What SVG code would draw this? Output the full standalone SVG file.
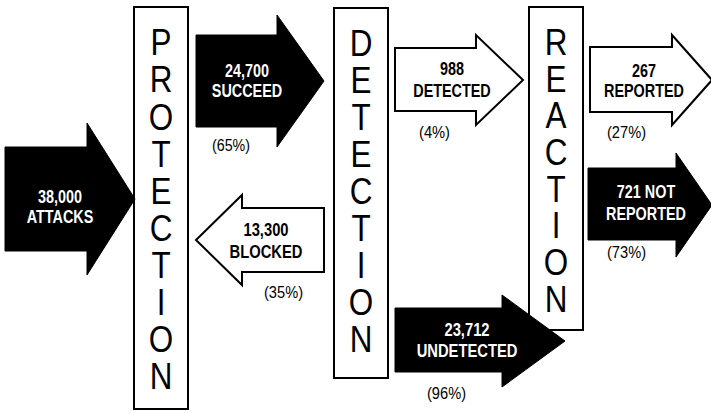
<svg xmlns="http://www.w3.org/2000/svg" width="711" height="413" viewBox="0 0 711 413">
<style>
.box{fill:#fff;stroke:#000;stroke-width:2}
.big{font-family:"Liberation Sans",Arial,sans-serif;font-size:37px;fill:#000;text-anchor:middle}
.ab{fill:#000;stroke:#000;stroke-width:1}
.aw{fill:#fff;stroke:#000;stroke-width:2;stroke-linejoin:miter}
.lw{font-family:"Liberation Sans",Arial,sans-serif;font-size:18px;font-weight:bold;fill:#fff;text-anchor:middle}
.lb{font-family:"Liberation Sans",Arial,sans-serif;font-size:18px;font-weight:bold;fill:#000;text-anchor:middle}
.pc{font-family:"Liberation Sans",Arial,sans-serif;font-size:16px;fill:#000}
</style>
<rect width="711" height="413" fill="#fff"/>
<g id="protection">
<rect class="box" x="134" y="7" width="54" height="402"/>
<g transform="translate(161,0) scale(0.85,1)">
<text class="big" x="0" y="55">P</text>
<text class="big" x="0" y="92">R</text>
<text class="big" x="0" y="130">O</text>
<text class="big" x="0" y="167">T</text>
<text class="big" x="0" y="204">E</text>
<text class="big" x="0" y="241">C</text>
<text class="big" x="0" y="278">T</text>
<text class="big" x="0" y="315">I</text>
<text class="big" x="0" y="352">O</text>
<text class="big" x="0" y="389">N</text>
</g>
</g>
<g id="detection">
<rect class="box" x="334" y="8" width="54" height="370"/>
<g transform="translate(361,0) scale(0.85,1)">
<text class="big" x="0" y="56">D</text>
<text class="big" x="0" y="93">E</text>
<text class="big" x="0" y="130">T</text>
<text class="big" x="0" y="167">E</text>
<text class="big" x="0" y="204">C</text>
<text class="big" x="0" y="241">T</text>
<text class="big" x="0" y="278">I</text>
<text class="big" x="0" y="315">O</text>
<text class="big" x="0" y="352">N</text>
</g>
</g>
<g id="reaction">
<rect class="box" x="529" y="7" width="54" height="323"/>
<g transform="translate(556,0) scale(0.85,1)">
<text class="big" x="0" y="55">R</text>
<text class="big" x="0" y="92">E</text>
<text class="big" x="0" y="128">A</text>
<text class="big" x="0" y="165">C</text>
<text class="big" x="0" y="202">T</text>
<text class="big" x="0" y="238">I</text>
<text class="big" x="0" y="275">O</text>
<text class="big" x="0" y="312">N</text>
</g>
</g>
<g id="connectors">
<g id="attacks">
<polygon class="ab" points="5,147 87,147 87,123 135,199 87,275 87,251 5,251"/>
<g transform="translate(60,0) scale(0.8,1)">
<text class="lw" x="0" y="203">38,000</text>
<text class="lw" x="0" y="223">ATTACKS</text>
</g>
</g>
<g id="succeed">
<polygon class="ab" points="196,35 277,35 277,15 324,81 277,147 277,127 196,127"/>
<g transform="translate(247,0) scale(0.8,1)">
<text class="lw" x="0" y="77">24,700</text>
<text class="lw" x="0" y="97">SUCCEED</text>
</g>
<text class="pc" x="212" y="151" textLength="38" lengthAdjust="spacingAndGlyphs">(65%)</text>
</g>
<g id="blocked">
<polygon class="aw" points="324,208 242,208 242,195 196,240 242,285 242,272 324,272"/>
<g transform="translate(266,0) scale(0.82,1)">
<text class="lb" x="0" y="236">13,300</text>
<text class="lb" x="0" y="258">BLOCKED</text>
</g>
<text class="pc" x="264" y="298" textLength="39" lengthAdjust="spacingAndGlyphs">(35%)</text>
</g>
<g id="detected">
<polygon class="aw" points="395,48 476,48 476,35 523,80 476,125 476,111 395,111"/>
<g transform="translate(452,0) scale(0.8,1)">
<text class="lb" x="0" y="75">988</text>
<text class="lb" x="0" y="97">DETECTED</text>
</g>
<text class="pc" x="419" y="138" textLength="31" lengthAdjust="spacingAndGlyphs">(4%)</text>
</g>
<g id="undetected">
<polygon class="ab" points="395,308 502,308 502,295 565,341 502,387 502,372 395,372"/>
<g transform="translate(467,0) scale(0.82,1)">
<text class="lw" x="0" y="336">23,712</text>
<text class="lw" x="0" y="357">UNDETECTED</text>
</g>
<text class="pc" x="427" y="399" textLength="39" lengthAdjust="spacingAndGlyphs">(96%)</text>
</g>
<g id="reported">
<polygon class="aw" points="590,47 672,47 672,35 712,80 672,125 672,112 590,112"/>
<g transform="translate(644,0) scale(0.8,1)">
<text class="lb" x="0" y="77">267</text>
<text class="lb" x="0" y="97">REPORTED</text>
</g>
<text class="pc" x="607" y="138" textLength="39" lengthAdjust="spacingAndGlyphs">(27%)</text>
</g>
<g id="notreported">
<polygon class="ab" points="588,168 676,168 676,153 712,205 676,257 676,240 588,240"/>
<g transform="translate(646,0) scale(0.8,1)">
<text class="lw" x="0" y="198">721 NOT</text>
<text class="lw" x="0" y="220">REPORTED</text>
</g>
<text class="pc" x="607" y="258" textLength="39" lengthAdjust="spacingAndGlyphs">(73%)</text>
</g>
</g>
</svg>
